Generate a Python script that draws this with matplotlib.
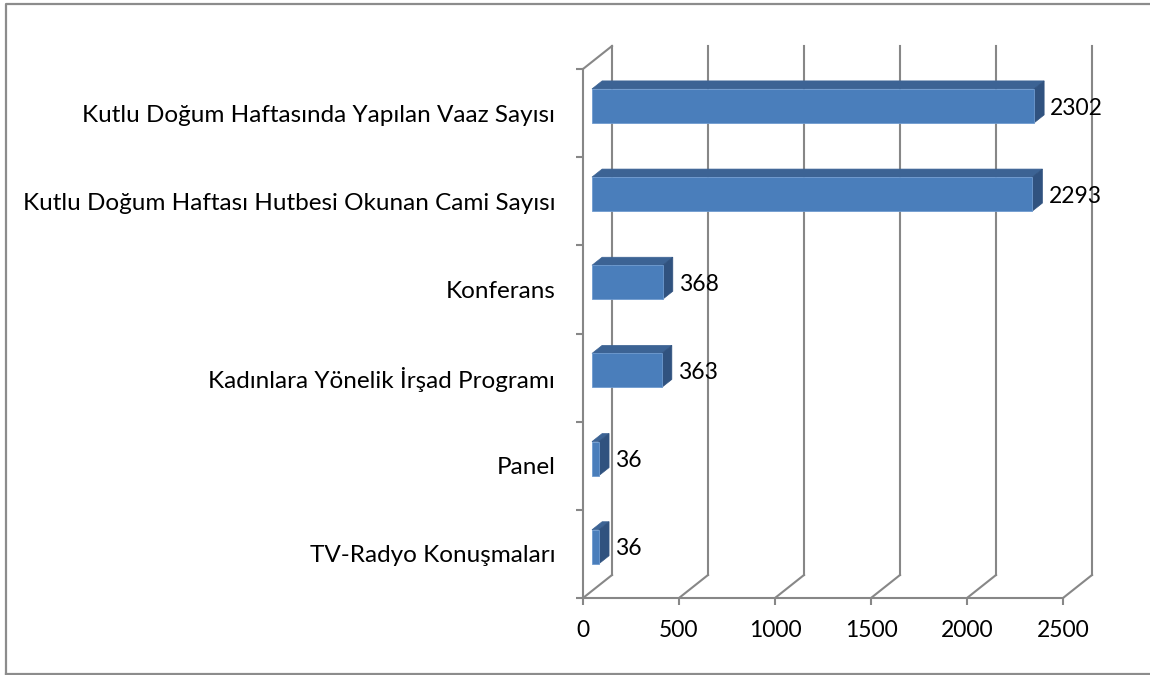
import matplotlib
matplotlib.use("Agg")
import matplotlib.pyplot as plt
from matplotlib.patches import Polygon, Rectangle
from matplotlib.lines import Line2D

plt.rcParams['font.family'] = ['Lato', 'DejaVu Sans']

# categories bottom to top
categories = [
    "TV-Radyo Konuşmaları",
    "Panel",
    "Kadınlara Yönelik İrşad Programı",
    "Konferans",
    "Kutlu Doğum Haftası Hutbesi Okunan Cami Sayısı",
    "Kutlu Doğum Haftasında Yapılan Vaaz Sayısı",
]
values = [36, 36, 363, 368, 2293, 2302]
xticks = [0, 500, 1000, 1500, 2000, 2500]

W, H = 1150, 675
fig = plt.figure(figsize=(W / 100, H / 100), dpi=100)

# plot box in pixels: front plane x 583..1063, y 69..598
left, right, top, bottom = 583, 1063, 69, 598
ax = fig.add_axes([left / W, 1 - bottom / H, (right - left) / W, (bottom - top) / H])
ncat = len(categories)
ax.set_xlim(0, 2500)
ax.set_ylim(0, ncat)

# depth offset of the back wall, in data units
px_x = 2500 / (right - left)
px_y = ncat / (bottom - top)
DX = 29 * px_x
DY = 23 * px_y

grid = '#878787'
lw = 1.5

# back wall gridlines + floor diagonals
for t in xticks:
    ax.add_line(Line2D([t + DX, t + DX], [DY, ncat + DY], color=grid, lw=lw, zorder=1, clip_on=False))
    ax.add_line(Line2D([t, t + DX], [0, DY], color=grid, lw=lw, zorder=1, clip_on=False))
# front floor edge and left wall
ax.add_line(Line2D([0, 2500], [0, 0], color=grid, lw=lw, zorder=1, clip_on=False))
ax.add_line(Line2D([0, 0], [0, ncat], color=grid, lw=lw, zorder=1, clip_on=False))
ax.add_line(Line2D([0, DX], [ncat, ncat + DY], color=grid, lw=lw, zorder=1, clip_on=False))

# 3d bars
d1, d2 = 0.31, 0.66
bh = 34 * px_y
front_c, top_c, side_c = '#4a7ebb', '#3c6394', '#30527f'
for i, v in enumerate(values):
    c = i + 0.5
    x0, x1 = d1 * DX, v + d1 * DX
    y0, y1 = c - bh / 2 + d1 * DY, c + bh / 2 + d1 * DY
    ox, oy = (d2 - d1) * DX, (d2 - d1) * DY
    ax.add_patch(Polygon([(x0, y1), (x1, y1), (x1 + ox, y1 + oy), (x0 + ox, y1 + oy)],
                         closed=True, fc=top_c, ec=top_c, lw=0.5, zorder=3, clip_on=False))
    ax.add_patch(Polygon([(x1, y0), (x1, y1), (x1 + ox, y1 + oy), (x1 + ox, y0 + oy)],
                         closed=True, fc=side_c, ec=side_c, lw=0.5, zorder=3, clip_on=False))
    ax.add_patch(Rectangle((x0, y0), x1 - x0, y1 - y0, fc=front_c, ec='#6f9bd0',
                           lw=0.6, zorder=4, clip_on=False))
    ax.annotate(str(v), (v + d2 * DX, c), xytext=(6, 5), textcoords='offset pixels',
                ha='left', va='center', fontsize=16.5, color='black', zorder=5,
                annotation_clip=False)

# axes ticks
for s in ax.spines.values():
    s.set_visible(False)
ax.set_xticks(xticks)
ax.set_xticklabels([str(t) for t in xticks])
ax.set_yticks(range(ncat + 1))
ax.set_yticklabels([])
ax.set_yticks([i + 0.5 for i in range(ncat)], minor=True)
ax.set_yticklabels(categories, minor=True)
ax.tick_params(axis='x', direction='out', length=5, width=lw, color=grid,
               labelsize=16.5, pad=11)
ax.tick_params(axis='y', which='major', direction='out', length=5, width=lw, color=grid)
ax.tick_params(axis='y', which='minor', length=0, labelsize=17.5, pad=20)
ax.patch.set_visible(False)

# outer chart border
fig.add_artist(Line2D([6 / W, 6 / W, 1.01], [1 - 674 / H, 1 - 4 / H, 1 - 4 / H],
                      color='#8c8c8c', lw=1.6, transform=fig.transFigure))
fig.add_artist(Line2D([6 / W, 1.01], [1 - 674 / H, 1 - 674 / H],
                      color='#8c8c8c', lw=1.6, transform=fig.transFigure))

fig.savefig('out.png', dpi=100)
